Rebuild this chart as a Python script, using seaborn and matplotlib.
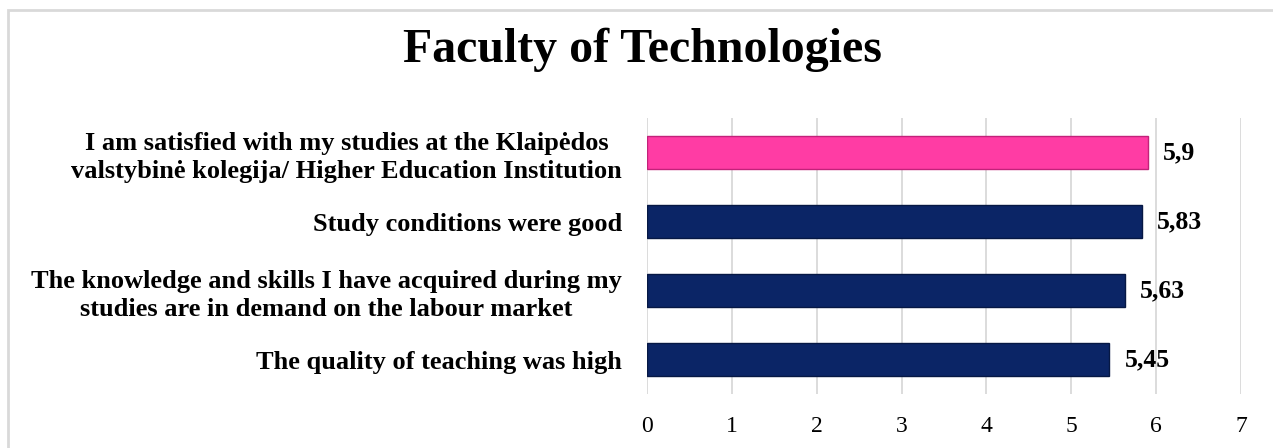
import matplotlib

matplotlib.use("Agg")
import matplotlib.pyplot as plt  # noqa: E402
import pandas as pd  # noqa: E402
import seaborn as sns  # noqa: E402
from matplotlib.patches import Rectangle  # noqa: E402

title = "Faculty of Technologies"
categories = [
    "I am satisfied with my studies at the Klaipėdos\nvalstybinė kolegija/ Higher Education Institution",
    "Study conditions were good",
    "The knowledge and skills I have acquired during my\nstudies are in demand on the labour market",
    "The quality of teaching was high",
]
values = [5.9, 5.83, 5.63, 5.45]
value_labels = ["5,9", "5,83", "5,63", "5,45"]
bar_colors = ["#FF3CA4", "#0B2566", "#0B2566", "#0B2566"]
edge_colors = ["#C2227A", "#061844", "#061844", "#061844"]
x_ticks = [0, 1, 2, 3, 4, 5, 6, 7]

sns.set_theme(style="white")
plt.rcParams["font.family"] = ["Liberation Serif", "DejaVu Serif"]
plt.rcParams["text.color"] = "black"
plt.rcParams["xtick.color"] = "black"
plt.rcParams["ytick.color"] = "black"

df = pd.DataFrame({"item": categories, "score": values})

fig = plt.figure(figsize=(12.73, 4.48), dpi=100)
ax = fig.add_axes([647 / 1273, 54 / 448, 594 / 1273, 276 / 448])

sns.barplot(
    data=df, x="score", y="item", hue="item", palette=bar_colors,
    saturation=1, orient="h", width=0.48, legend=False, ax=ax, zorder=3,
)
for bar, ec in zip(ax.patches, edge_colors):
    bar.set_edgecolor(ec)
    bar.set_linewidth(1.0)

ax.set_xlim(0, 7)
ax.set_ylim(3.5, -0.5)
ax.set_xticks(x_ticks)
ax.set_xticklabels([str(t) for t in x_ticks], fontsize=17)
ax.tick_params(axis="x", length=0, pad=16)
ax.tick_params(axis="y", length=0, pad=18)
for lbl in ax.get_yticklabels():
    lbl.set_fontsize(19)
    lbl.set_fontweight("bold")
    lbl.set_multialignment("center")
    lbl.set_linespacing(1.3)
ax.set_xlabel("")
ax.set_ylabel("")
ax.grid(axis="x", color="#D9D9D9", linewidth=1.3, zorder=0)
for s in ax.spines.values():
    s.set_visible(False)

for i, (v, t) in enumerate(zip(values, value_labels)):
    ax.text(v + 0.18, i, t, va="center", ha="left", fontsize=18.5, fontweight="bold")

fig.text(642 / 1273, 1 - 50 / 448, title, ha="center", va="center",
         fontsize=34.5, fontweight="bold")

fig.patches.append(Rectangle((8 / 1273, -0.1), 1.2, 1 - 10 / 448 + 0.1,
                             transform=fig.transFigure, fill=False,
                             edgecolor="#D9D9D9", linewidth=2))

fig.savefig("out.png", dpi=100)
